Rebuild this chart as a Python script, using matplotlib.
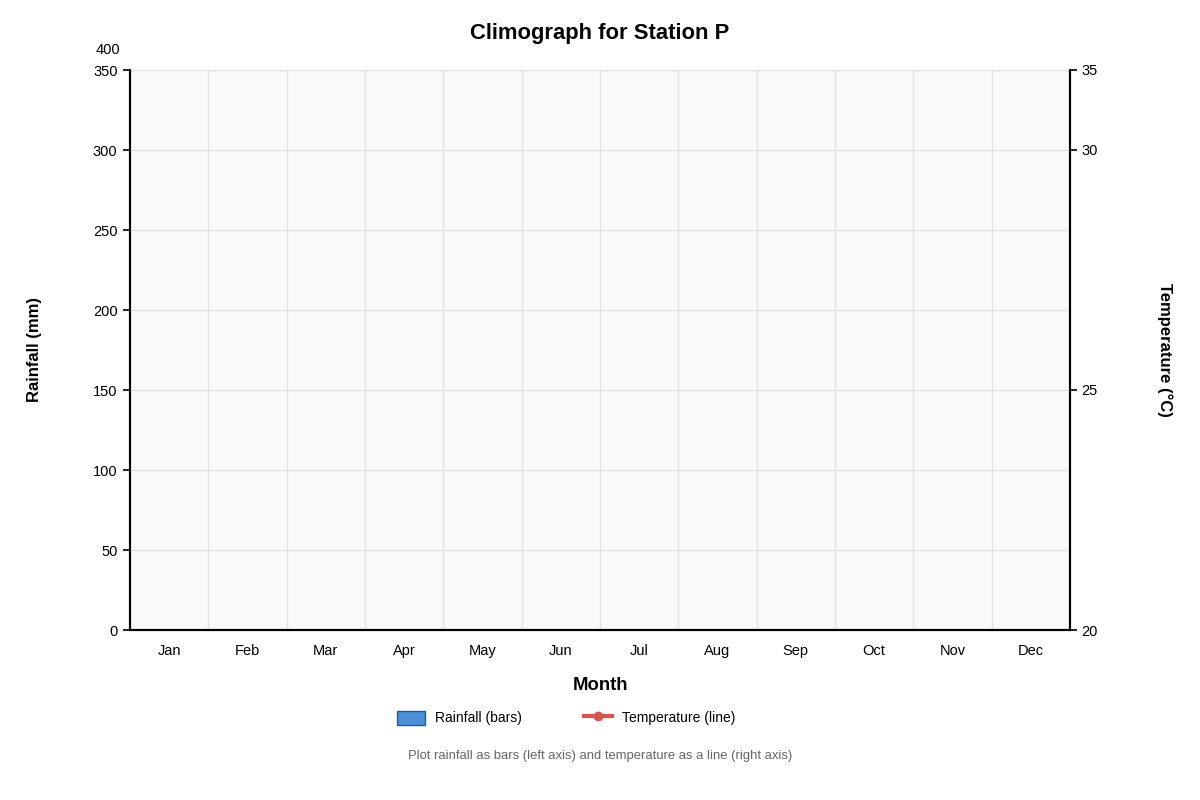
import matplotlib
matplotlib.use('Agg')
import matplotlib.pyplot as plt
from matplotlib.patches import Patch
from matplotlib.lines import Line2D

plt.rcParams['font.family'] = ['Liberation Sans', 'DejaVu Sans']

# Data (the reference shows an empty climograph: no readings plotted)
months = ['Jan', 'Feb', 'Mar', 'Apr', 'May', 'Jun',
          'Jul', 'Aug', 'Sep', 'Oct', 'Nov', 'Dec']
rainfall = []
temperature = []
rain_ticks = [0, 50, 100, 150, 200, 250, 300, 350]
temp_tick_labels = ['20', '25', '30', '35']
temp_tick_pos = [0, 150, 300, 350]

bar_color = '#4a90d9'
line_color = '#d9534f'

fig = plt.figure(figsize=(12, 8), dpi=100)
ax = fig.add_axes([130 / 1200, 170 / 800, 940 / 1200, 560 / 800])
ax.set_facecolor('#f9f9f9')

# Rainfall bars and temperature line (empty series)
ax.bar(range(len(rainfall)), rainfall, color=bar_color, edgecolor='#2a5a8a')
ax2 = ax.twinx()
ax2.plot(range(len(temperature)), temperature, color=line_color, marker='o', lw=2)

ax.set_xlim(-0.5, len(months) - 0.5)
ax.set_ylim(0, 350)
ax2.set_ylim(0, 350)

ax.set_xticks(range(len(months)))
ax.set_xticklabels(months, fontsize=10.5)
ax.set_xticks([i + 0.5 for i in range(len(months) - 1)], minor=True)
ax.tick_params(axis='x', which='both', length=0, pad=10)
ax.set_yticks(rain_ticks)
ax.tick_params(axis='y', labelsize=10.5, length=5, width=1.2, pad=4)
ax.grid(True, axis='y', color='#e3e3e3', lw=1)
ax.grid(True, axis='x', which='minor', color='#e3e3e3', lw=1)
ax.set_axisbelow(True)

ax2.set_yticks(temp_tick_pos)
ax2.set_yticklabels(temp_tick_labels)
ax2.tick_params(axis='y', labelsize=10.5, length=5, width=1.2, pad=3)

# extra "400" label sitting above the left axis
ax.text(-0.0105, 1.036, '400', transform=ax.transAxes, ha='right', va='center',
        fontsize=10.5)

for a in (ax, ax2):
    a.spines['top'].set_visible(False)
    a.spines['left'].set_linewidth(1.5)
    a.spines['right'].set_linewidth(1.5)
    a.spines['bottom'].set_linewidth(1.5)

fig.text(35 / 1200, 1 - 350 / 800, 'Rainfall (mm)', rotation=90, ha='center',
         va='center', fontsize=12, fontweight='bold')
fig.text(1165 / 1200, 1 - 350 / 800, 'Temperature (°C)', rotation=270,
         ha='center', va='center', fontsize=12, fontweight='bold')
fig.text(0.5, 1 - 33 / 800, 'Climograph for Station P', ha='center',
         va='center', fontsize=15.8, fontweight='bold')
fig.text(0.5, 1 - 685 / 800, 'Month', ha='center', va='center',
         fontsize=13.3, fontweight='bold')
fig.text(0.5, 1 - 756 / 800,
         'Plot rainfall as bars (left axis) and temperature as a line (right axis)',
         ha='center', va='center', fontsize=9.4, color='#666666')

handles = [
    Patch(facecolor=bar_color, edgecolor='#2a5a8a', label='Rainfall (bars)'),
    Line2D([0], [0], color=line_color, lw=3, marker='o', markersize=6,
           label='Temperature (line)'),
]
fig.legend(handles=handles, loc='center', bbox_to_anchor=(566 / 1200, 1 - 718 / 800),
           ncol=2, frameon=False, fontsize=10, columnspacing=4.5,
           handlelength=2.0, handleheight=1.2, handletextpad=0.7)

fig.savefig('out.png', dpi=100)
